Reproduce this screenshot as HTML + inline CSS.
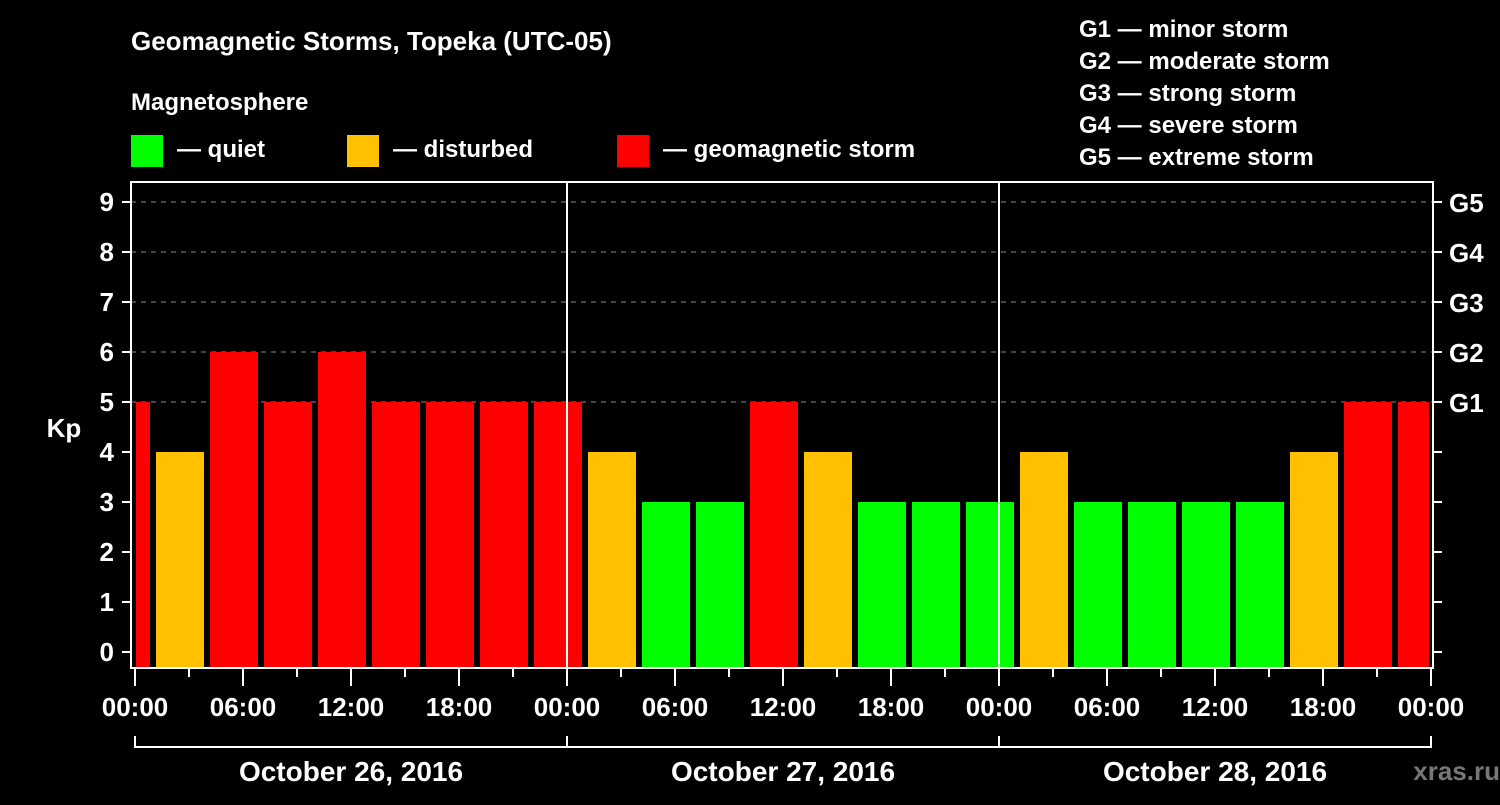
<!DOCTYPE html>
<html><head><meta charset="utf-8"><style>
body{margin:0;background:#000;}
svg text{font-family:"Liberation Sans",Arial,sans-serif;font-weight:bold;fill:#fff;}
</style></head><body>
<svg id="c" width="1500" height="800" viewBox="0 0 1500 800" xmlns="http://www.w3.org/2000/svg">
<rect width="1500" height="800" fill="#000"/>
<text x="131" y="50" font-size="26">Geomagnetic Storms, Topeka (UTC-05)</text>
<text x="131" y="110" font-size="24">Magnetosphere</text>
<g><rect x="131" y="135" width="32" height="32" fill="#00ff00"/><text x="177" y="157" font-size="24">— quiet</text></g>
<g><rect x="347" y="135" width="32" height="32" fill="#ffc000"/><text x="393" y="157" font-size="24">— disturbed</text></g>
<g><rect x="617" y="135" width="32" height="32" fill="#ff0000"/><text x="663" y="157" font-size="24">— geomagnetic storm</text></g>
<g font-size="24">
<text x="1079" y="37">G1 — minor storm</text>
<text x="1079" y="69">G2 — moderate storm</text>
<text x="1079" y="101">G3 — strong storm</text>
<text x="1079" y="133">G4 — severe storm</text>
<text x="1079" y="165">G5 — extreme storm</text>
</g>
<text x="64" y="437" font-size="26" text-anchor="middle">Kp</text>
<g id="grid"></g><g id="bars"></g><g id="axes"></g>
<text x="1500" y="780" font-size="26" text-anchor="end" fill="#777" style="fill:#777">xras.ru </text>
</svg>
<script>
const startHours = [-2,1,4,7,10,13,16,19,22,25,28,31,34,37,40,43,46,49,52,55,58,61,64,67,70];
const kpValues = [5,4,6,5,6,5,5,5,5,4,3,3,5,4,3,3,3,4,3,3,3,3,4,5,5];
const yTicks = [0,1,2,3,4,5,6,7,8,9];
const gLabels = ["G1","G2","G3","G4","G5"];
const xTickLabels = ["00:00","06:00","12:00","18:00","00:00","06:00","12:00","18:00","00:00","06:00","12:00","18:00","00:00"];
const dayLabels = ["October 26, 2016","October 27, 2016","October 28, 2016"];
const NS="http://www.w3.org/2000/svg";
const X=h=>135+18*h, Y=v=>652-50*v;
const L=136,R=1429;
function el(t,a,p){const e=document.createElementNS(NS,t);for(const k in a)e.setAttribute(k,a[k]);document.getElementById(p).appendChild(e);return e;}
function col(v){return v>=5?"#ff0000":v>=4?"#ffc000":"#00ff00";}
// grid
for(let v=5;v<=9;v++){const e=el("line",{x1:131,x2:1433,y1:Y(v),y2:Y(v),stroke:"#888","stroke-dasharray":"5,5","stroke-width":1},"grid");

}
// bars
startHours.forEach((h,i)=>{let x0=Math.max(L,X(h)+3),x1=Math.min(R,X(h+3)-3);const v=kpValues[i];
const r=el("rect",{x:x0,y:Y(v),width:x1-x0,height:668-Y(v),fill:col(v)},"bars");

});
// frame & day separators
const f=el("rect",{x:131,y:182,width:1302,height:486,fill:"none",stroke:"#fff","stroke-width":2},"axes");


[24,48].forEach(h=>{const e=el("line",{x1:X(h),x2:X(h),y1:182,y2:668,stroke:"#fff","stroke-width":2},"axes");

});
yTicks.forEach(v=>{el("line",{x1:122,x2:131,y1:Y(v),y2:Y(v),stroke:"#fff","stroke-width":2},"axes");
el("line",{x1:1433,x2:1442,y1:Y(v),y2:Y(v),stroke:"#fff","stroke-width":2},"axes");
const t=el("text",{x:114,y:Y(v)+9,"font-size":26,"text-anchor":"end"},"axes");t.textContent=v;

});
gLabels.forEach((g,i)=>{const t=el("text",{x:1449,y:Y(5+i)+10,"font-size":26},"axes");t.textContent=g;

});
for(let h=0;h<=72;h+=3){el("line",{x1:X(h),x2:X(h),y1:668,y2:h%6?677:686,stroke:"#fff","stroke-width":2},"axes");}
xTickLabels.forEach((s,i)=>{const t=el("text",{x:X(6*i),y:716,"font-size":26,"text-anchor":"middle"},"axes");t.textContent=s;

});
el("line",{x1:X(0),x2:X(72),y1:747,y2:747,stroke:"#fff","stroke-width":2},"axes");
[0,24,48,72].forEach(h=>el("line",{x1:X(h),x2:X(h),y1:736,y2:748,stroke:"#fff","stroke-width":2},"axes"));
dayLabels.forEach((s,i)=>{const t=el("text",{x:X(24*i+12),y:781,"font-size":28,"text-anchor":"middle"},"axes");t.textContent=s;

});
</script>
</body></html>
